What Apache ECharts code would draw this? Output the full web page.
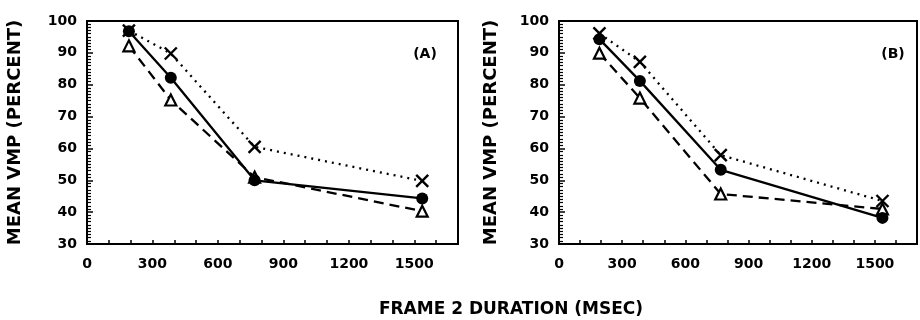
<!DOCTYPE html>
<html>
<head>
<meta charset="utf-8">
<script src="https://cdn.jsdelivr.net/npm/echarts@6/dist/echarts.min.js"></script>
<style>
html,body{margin:0;padding:0;background:#fff;}
#c{width:920px;height:320px;}
</style>
</head>
<body>
<div id="c"></div>
<script>
// ---- data ----
const durations = [192, 384, 768, 1536];
const panelLabels = ['(A)', '(B)'];
const xTickLabels = [0, 300, 600, 900, 1200, 1500];
const yTickLabels = [30, 40, 50, 60, 70, 80, 90, 100];
const xTitle = 'FRAME 2 DURATION (MSEC)';
const yTitle = 'MEAN VMP (PERCENT)';

const circleA   = [96.8, 82.2, 50.0, 44.3];
const crossA    = [97.0, 89.8, 60.5, 49.8];
const triangleA = [92.2, 75.2, 51.0, 40.3];

const circleB   = [94.3, 81.2, 53.3, 38.2];
const crossB    = [96.1, 87.2, 57.9, 43.5];
const triangleB = [89.9, 75.8, 45.7, 41.0];

// ---- chart ----
const FONT = 'DejaVu Sans';
const crossPath = 'path://M0,0L10,10M10,0L0,10';

function pairs(ys){ return durations.map((x,i)=>[x, ys[i]]); }

function xAxisDef(gi){
  return {
    gridIndex: gi, type: 'value', min: 0, max: 1700, interval: 100,
    axisLine: {show: true, lineStyle: {color: '#000', width: 2}},
    axisTick: {show: true, inside: true, length: 4, lineStyle: {color: '#000', width: 1.5}},
    splitLine: {show: false},
    axisLabel: {
      color: '#000', fontFamily: FONT, fontWeight: 'bold', fontSize: 14, margin: 13,
      formatter: v => xTickLabels.indexOf(v) >= 0 ? String(v) : ''
    }
  };
}
function yAxisDef(gi, gap){
  return {
    gridIndex: gi, type: 'value', min: 30, max: 100, interval: 10,
    name: yTitle, nameLocation: 'middle', nameGap: gap, nameRotate: 90,
    nameTextStyle: {color: '#000', fontFamily: FONT, fontWeight: 'bold', fontSize: 18},
    axisLine: {show: true, lineStyle: {color: '#000', width: 2}},
    axisTick: {show: true, inside: true, length: 6, lineStyle: {color: '#000', width: 1.5}},
    minorTick: {show: true, splitNumber: 10, length: 4, lineStyle: {color: '#000', width: 1.2}},
    splitLine: {show: false},
    axisLabel: {
      color: '#000', fontFamily: FONT, fontWeight: 'bold', fontSize: 14, margin: 10,
      formatter: v => yTickLabels.indexOf(v) >= 0 ? String(v) : ''
    }
  };
}
function seriesSet(gi, circ, cross, tri){
  return [
    {
      type: 'line', xAxisIndex: gi, yAxisIndex: gi, data: pairs(cross),
      symbol: crossPath, symbolSize: 12, z: 3,
      lineStyle: {color: '#000', width: 2.3, type: [2, 5]},
      itemStyle: {color: '#000', borderColor: '#000', borderWidth: 2.4},
      animation: false
    },
    {
      type: 'line', xAxisIndex: gi, yAxisIndex: gi, data: pairs(tri),
      symbol: 'triangle', symbolSize: 11, z: 4,
      lineStyle: {color: '#000', width: 2.3, type: [10, 6]},
      itemStyle: {color: '#fff', borderColor: '#000', borderWidth: 2.2},
      animation: false
    },
    {
      type: 'line', xAxisIndex: gi, yAxisIndex: gi, data: pairs(circ),
      symbol: 'circle', symbolSize: 12, z: 5,
      lineStyle: {color: '#000', width: 2.3, type: 'solid'},
      itemStyle: {color: '#000', borderColor: '#000', borderWidth: 0},
      animation: false
    }
  ];
}

const chart = echarts.init(document.getElementById('c'), null, {renderer: 'canvas'});
chart.setOption({
  backgroundColor: '#fff',
  animation: false,
  grid: [
    {left: 87, top: 21, width: 371, height: 223, show: true, borderColor: '#000', borderWidth: 2, backgroundColor: 'transparent'},
    {left: 559, top: 21, width: 373, height: 223, show: true, borderColor: '#000', borderWidth: 2, backgroundColor: 'transparent'}
  ],
  xAxis: [xAxisDef(0), xAxisDef(1)],
  yAxis: [yAxisDef(0, 63), yAxisDef(1, 59)],
  title: [
    {text: xTitle, left: 506, top: 296, textAlign: 'center',
     textStyle: {color: '#000', fontFamily: FONT, fontWeight: 'bold', fontSize: 17}},
    {text: panelLabels[0], left: 420, top: 42, textAlign: 'center',
     textStyle: {color: '#000', fontFamily: FONT, fontWeight: 'bold', fontSize: 14}},
    {text: panelLabels[1], left: 888, top: 42, textAlign: 'center',
     textStyle: {color: '#000', fontFamily: FONT, fontWeight: 'bold', fontSize: 14}}
  ],
  series: [].concat(seriesSet(0, circleA, crossA, triangleA), seriesSet(1, circleB, crossB, triangleB))
});
</script>
</body>
</html>
